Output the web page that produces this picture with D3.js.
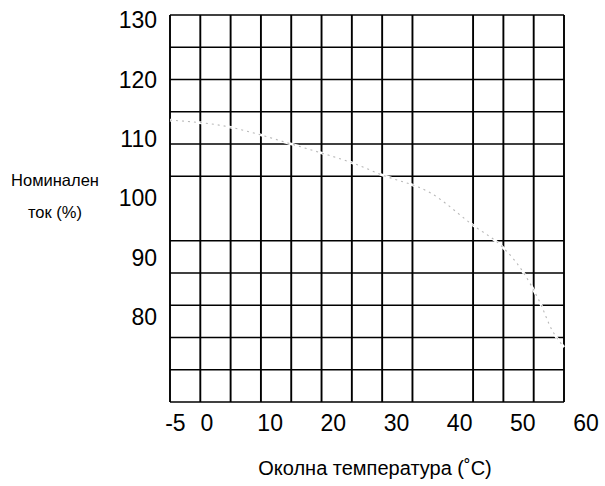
<!DOCTYPE html>
<html>
<head>
<meta charset="utf-8">
<script src="https://cdn.jsdelivr.net/npm/d3@7"></script>
<style>
  html, body { margin: 0; padding: 0; background: #fff; }
  svg { display: block; font-family: "Liberation Sans", Arial, sans-serif; }
</style>
</head>
<body>
<div id="chart"></div>
<script>
// derating curve
var tempC   = [-5, 5, 10, 15, 20, 25, 30, 38, 45, 50, 53, 56, 58, 60];
var current = [113.7, 112.6, 111.4, 110.0, 108.6, 107.1, 105.2, 102.4, 97.4, 93.9, 90.5, 85.5, 81.2, 78.5];

// grid lines that are printed (one column and one row are missing in the original)
var gridX = [-5, 0, 5, 10, 15, 20, 25, 30, 35, 45, 50, 55, 60];
var gridY = [130, 125, 120, 115, 110, 105, 95, 90, 85, 80, 75, 70];

var xTicks = [-5, 0, 10, 20, 30, 40, 50, 60];
var yTicks = [130, 120, 110, 100, 90, 80];

var xTitle = "Околна температура (˚C)";
var yTitle = ["Номинален", "ток (%)"];

var W = 605, H = 486;

var svg = d3.select("#chart").append("svg")
  .attr("width", W)
  .attr("height", H);

svg.append("rect").attr("width", W).attr("height", H).attr("fill", "#fff");

// grid scales
var x = d3.scaleLinear().domain([-5, 60]).range([170, 564]);
var y = d3.scaleLinear().domain([70, 130]).range([402, 15]);

// the printed numbers sit on their own spacing in the scan
var xLab = d3.scaleLinear().domain([0, 60]).range([207, 586]);
var yLab = d3.scaleLinear().domain([80, 130]).range([317, 20]);

var grid = svg.append("g").attr("class", "grid");

grid.selectAll("line.v")
  .data(gridX)
  .enter().append("line")
  .attr("class", "v")
  .attr("x1", function(d) { return x(d); })
  .attr("x2", function(d) { return x(d); })
  .attr("y1", y(130))
  .attr("y2", y(70))
  .attr("stroke", "#000")
  .attr("stroke-width", 1.9);

grid.selectAll("line.h")
  .data(gridY)
  .enter().append("line")
  .attr("class", "h")
  .attr("x1", x(-5))
  .attr("x2", x(60))
  .attr("y1", function(d) { return y(d); })
  .attr("y2", function(d) { return y(d); })
  .attr("stroke", "#000")
  .attr("stroke-width", 1.4);

var line = d3.line()
  .x(function(d, i) { return x(tempC[i]); })
  .y(function(d) { return y(d); })
  .curve(d3.curveMonotoneX);

// faint curve: it knocks the grid out where it crosses
svg.append("path")
  .datum(current)
  .attr("d", line)
  .attr("fill", "none")
  .attr("stroke", "#fff")
  .attr("stroke-width", 2.6);

svg.append("path")
  .datum(current)
  .attr("d", line)
  .attr("fill", "none")
  .attr("stroke", "#b8b8b8")
  .attr("stroke-width", 1.1)
  .attr("stroke-dasharray", "2,4");

svg.selectAll("text.xt")
  .data(xTicks)
  .enter().append("text")
  .attr("class", "xt")
  .attr("x", function(d) { return xLab(d); })
  .attr("y", 431)
  .attr("text-anchor", "middle")
  .attr("font-size", 23)
  .attr("fill", "#000")
  .text(function(d) { return d; });

svg.selectAll("text.yt")
  .data(yTicks)
  .enter().append("text")
  .attr("class", "yt")
  .attr("x", 157)
  .attr("y", function(d) { return yLab(d); })
  .attr("dy", "0.36em")
  .attr("text-anchor", "end")
  .attr("font-size", 23)
  .attr("fill", "#000")
  .text(function(d) { return d; });

svg.append("text")
  .attr("x", 375)
  .attr("y", 475)
  .attr("text-anchor", "middle")
  .attr("font-size", 20)
  .attr("fill", "#000")
  .text(xTitle);

svg.selectAll("text.ytitle")
  .data(yTitle)
  .enter().append("text")
  .attr("class", "ytitle")
  .attr("x", 55)
  .attr("y", function(d, i) { return 186 + i * 32; })
  .attr("text-anchor", "middle")
  .attr("font-size", 16.5)
  .attr("fill", "#000")
  .text(function(d) { return d; });
</script>
</body>
</html>
